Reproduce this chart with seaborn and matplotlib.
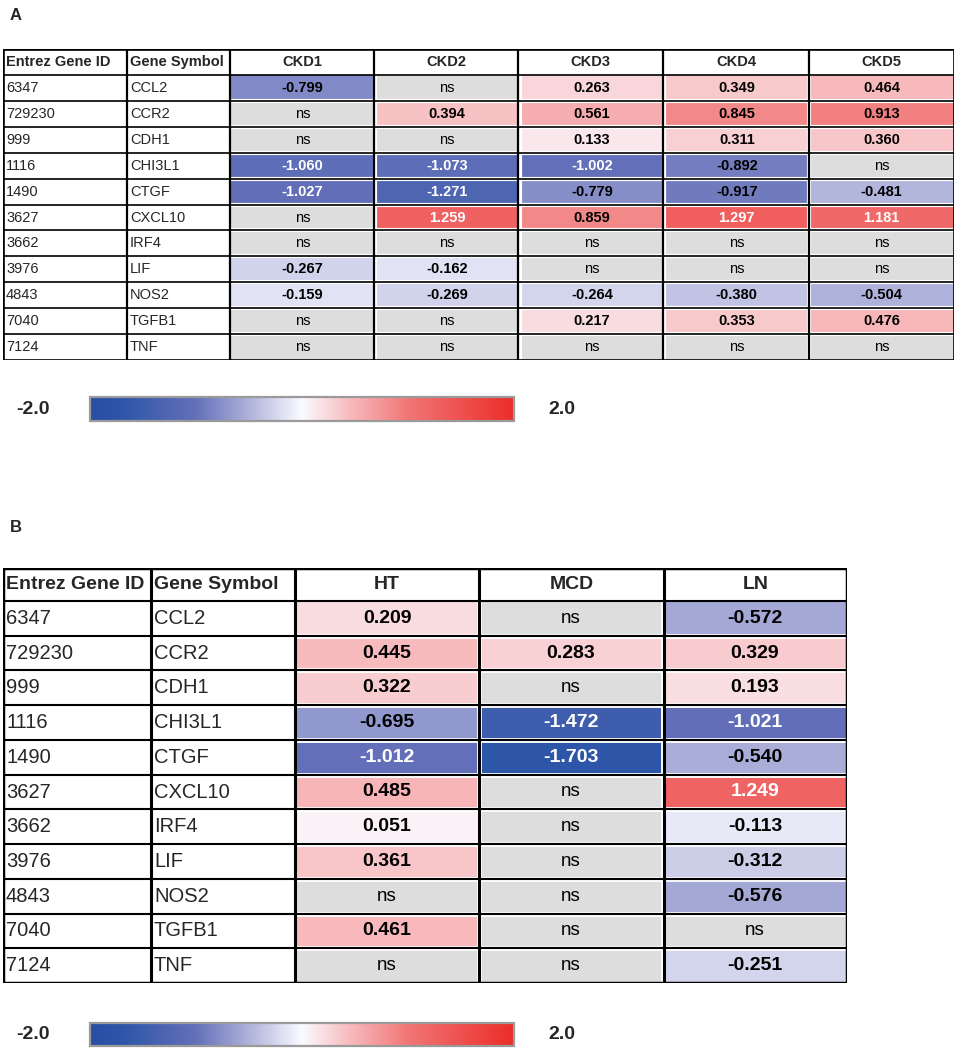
"""
Gene expression fold-change tables (CKD stages and glomerular diseases)
drawn as seaborn heatmaps with table-style framing.
"""

import numpy as np
import pandas as pd
import matplotlib
matplotlib.use("Agg")
import matplotlib.pyplot as plt
import seaborn as sns
from matplotlib.colors import LinearSegmentedColormap, Normalize
from matplotlib.cm import ScalarMappable

sns.set_style("white")

FONT = ["Liberation Sans", "DejaVu Sans"]
plt.rcParams["font.family"] = FONT

# ---- data -----------------------------------------------------------------
gene_ids = ["6347", "729230", "999", "1116", "1490", "3627",
            "3662", "3976", "4843", "7040", "7124"]
gene_symbols = ["CCL2", "CCR2", "CDH1", "CHI3L1", "CTGF", "CXCL10",
                "IRF4", "LIF", "NOS2", "TGFB1", "TNF"]

ckd_stages = ["CKD1", "CKD2", "CKD3", "CKD4", "CKD5"]
ckd1 = [-0.799, np.nan, np.nan, -1.060, -1.027, np.nan, np.nan, -0.267, -0.159, np.nan, np.nan]
ckd2 = [np.nan, 0.394, np.nan, -1.073, -1.271, 1.259, np.nan, -0.162, -0.269, np.nan, np.nan]
ckd3 = [0.263, 0.561, 0.133, -1.002, -0.779, 0.859, np.nan, np.nan, -0.264, 0.217, np.nan]
ckd4 = [0.349, 0.845, 0.311, -0.892, -0.917, 1.297, np.nan, np.nan, -0.380, 0.353, np.nan]
ckd5 = [0.464, 0.913, 0.360, np.nan, -0.481, 1.181, np.nan, np.nan, -0.504, 0.476, np.nan]

diseases = ["HT", "MCD", "LN"]
ht = [0.209, 0.445, 0.322, -0.695, -1.012, 0.485, 0.051, 0.361, np.nan, 0.461, np.nan]
mcd = [np.nan, 0.283, np.nan, -1.472, -1.703, np.nan, np.nan, np.nan, np.nan, np.nan, np.nan]
ln = [-0.572, 0.329, 0.193, -1.021, -0.540, 1.249, -0.113, -0.312, -0.576, np.nan, -0.251]

ckd_df = pd.DataFrame(dict(zip(ckd_stages, [ckd1, ckd2, ckd3, ckd4, ckd5])), index=gene_symbols)
dis_df = pd.DataFrame(dict(zip(diseases, [ht, mcd, ln])), index=gene_symbols)

# ---- colours --------------------------------------------------------------
VMIN, VMAX = -2.0, 2.0
cmap_nodes = [
    (-2.0, (40, 78, 165)),
    (-1.7, (45, 85, 168)),
    (-1.0, (100, 112, 185)),
    (-0.5, (175, 178, 218)),
    (0.0, (250, 250, 255)),
    (0.5, (247, 180, 182)),
    (1.0, (242, 118, 118)),
    (1.3, (240, 95, 95)),
    (2.0, (235, 45, 40)),
]
cmap = LinearSegmentedColormap.from_list(
    "bwr_excel",
    [((v - VMIN) / (VMAX - VMIN), tuple(c / 255 for c in rgb)) for v, rgb in cmap_nodes],
)
norm = Normalize(VMIN, VMAX)
NS_GREY = "#dddddd"

W, H = 957, 1050
fig = plt.figure(figsize=(W / 100, H / 100), dpi=100)


def px_rect(x0, y0, x1, y1):
    """Pixel box (top-left origin) -> figure fraction rect."""
    return [x0 / W, 1 - y1 / H, (x1 - x0) / W, (y1 - y0) / H]


def draw_table(df, col_edges, y_top, y_head, y_bot, head_size, left_size,
               val_size, ns_size, black_v, black_h, white_lw):
    n_rows = len(df)
    x_left, x_sym, x_val = col_edges[0], col_edges[1], col_edges[2]
    x_right = col_edges[-1]

    # heatmap of the value columns
    ax_h = fig.add_axes(px_rect(x_val, y_head, x_right, y_bot))
    sns.heatmap(df, ax=ax_h, cmap=cmap, vmin=VMIN, vmax=VMAX, cbar=False,
                xticklabels=False, yticklabels=False, linewidths=0)
    ax_h.set_facecolor(NS_GREY)
    for k in range(1, n_rows):
        ax_h.axhline(k, color="white", lw=white_lw)
    for k in range(1, df.shape[1]):
        ax_h.axvline(k, color="white", lw=white_lw)
    for i in range(n_rows):
        for j in range(df.shape[1]):
            v = df.iat[i, j]
            if np.isnan(v):
                ax_h.text(j + 0.5, i + 0.5, "ns", ha="center", va="center",
                          fontsize=ns_size, color="black")
            else:
                ax_h.text(j + 0.5, i + 0.5, f"{v:.3f}", ha="center", va="center",
                          fontsize=val_size, fontweight="bold",
                          color="white" if abs(v) >= 1.0 else "black")

    # frame axes in pixel coordinates for grid lines and text columns
    ax_f = fig.add_axes(px_rect(x_left, y_top, x_right, y_bot))
    ax_f.set_xlim(x_left, x_right)
    ax_f.set_ylim(y_bot, y_top)
    ax_f.axis("off")

    row_edges = np.concatenate([[y_top], np.linspace(y_head, y_bot, n_rows + 1)])
    for y in row_edges[1:-1]:
        ax_f.plot([x_left, x_right], [y, y], color="black", lw=black_h, solid_capstyle="butt")
    for x in col_edges[1:-1]:
        ax_f.plot([x, x], [y_top, y_bot], color="black", lw=black_v, solid_capstyle="butt")
    ax_f.plot([x_left, x_right, x_right, x_left, x_left],
              [y_top, y_top, y_bot, y_bot, y_top], color="black", lw=black_v + 0.3,
              solid_joinstyle="miter")

    pad = 3
    head_y = (y_top + y_head) / 2
    ax_f.text(x_left + pad, head_y, "Entrez Gene ID", ha="left", va="center",
              fontsize=head_size, fontweight="bold")
    ax_f.text(x_sym + pad, head_y, "Gene Symbol", ha="left", va="center",
              fontsize=head_size, fontweight="bold")
    for j, name in enumerate(df.columns):
        xc = (col_edges[2 + j] + col_edges[3 + j]) / 2
        ax_f.text(xc, head_y, name, ha="center", va="center",
                  fontsize=head_size, fontweight="bold")
    centers = (row_edges[1:-1] + row_edges[2:]) / 2
    for gid, sym, yc in zip(gene_ids, df.index, centers):
        ax_f.text(x_left + pad, yc, gid, ha="left", va="center", fontsize=left_size)
        ax_f.text(x_sym + pad, yc, sym, ha="left", va="center", fontsize=left_size)


def draw_colorbar(y0, y1, size):
    cax = fig.add_axes(px_rect(90, y0, 514, y1))
    cb = fig.colorbar(ScalarMappable(norm=norm, cmap=cmap), cax=cax, orientation="horizontal")
    cb.set_ticks([])
    cb.outline.set_edgecolor("#9a9a9a")
    cb.outline.set_linewidth(1.6)
    yc = 1 - (y0 + y1) / 2 / H
    fig.text(33 / W, yc, "-2.0", ha="center", va="center", fontsize=size, fontweight="bold")
    fig.text(562 / W, yc, "2.0", ha="center", va="center", fontsize=size, fontweight="bold")


# ---- panel A --------------------------------------------------------------
fig.text(10 / W, 1 - 15 / H, "A", ha="left", va="center", fontsize=12, fontweight="bold")
draw_table(ckd_df, [3, 127, 230, 374, 518, 663, 809, 954], 49, 75, 360,
           head_size=10.5, left_size=10.5, val_size=10.5, ns_size=10.5,
           black_v=1.6, black_h=1.2, white_lw=3.0)
draw_colorbar(397, 421, 14)

# ---- panel B --------------------------------------------------------------
fig.text(10 / W, 1 - 527 / H, "B", ha="left", va="center", fontsize=12, fontweight="bold")
draw_table(dis_df, [3, 151, 295, 479, 664, 847], 568, 601, 983,
           head_size=14, left_size=14.5, val_size=14, ns_size=13.5,
           black_v=2.2, black_h=1.5, white_lw=3.5)
draw_colorbar(1023, 1046, 14)

fig.savefig("out.png", dpi=100)
